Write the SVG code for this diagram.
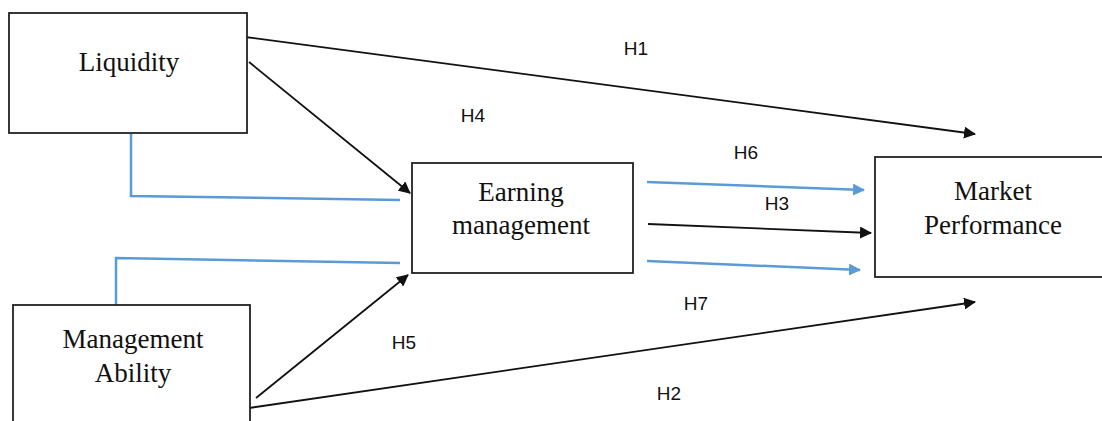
<svg xmlns="http://www.w3.org/2000/svg" width="1102" height="421" viewBox="0 0 1102 421">
<style>
.box{fill:#fff;stroke:#222;stroke-width:1.8}
.nt{font-family:"Liberation Serif",serif;font-size:27px;fill:#111;text-anchor:middle}
.lb{font-family:"Liberation Sans",sans-serif;font-size:19px;fill:#111;text-anchor:middle}
.k{stroke:#111;stroke-width:1.8;fill:none}
.b{stroke:#5B9BD5;stroke-width:2.5;fill:none}
</style>
<defs>
<marker id="ak" markerWidth="12" markerHeight="12" refX="11" refY="6" orient="auto" markerUnits="userSpaceOnUse" viewBox="0 0 12 12"><path d="M0,0 L12,6 L0,12 z" fill="#111"/></marker>
<marker id="ab" markerWidth="12" markerHeight="12" refX="11" refY="6" orient="auto" markerUnits="userSpaceOnUse" viewBox="0 0 12 12"><path d="M0,0 L12,6 L0,12 z" fill="#5B9BD5"/></marker>
</defs>
<rect width="1102" height="421" fill="#fff"/>
<g id="connectors">
<line class="k" x1="245" y1="37" x2="975" y2="134" marker-end="url(#ak)"/>
<line class="k" x1="249" y1="62" x2="410" y2="193" marker-end="url(#ak)"/>
<polyline class="b" points="131,134 131,196 400,200"/>
<polyline class="b" points="116,312 116,258 400,263"/>
<line class="k" x1="256" y1="398" x2="408" y2="275" marker-end="url(#ak)"/>
<line class="k" x1="249" y1="408" x2="975" y2="302" marker-end="url(#ak)"/>
<line class="b" x1="647" y1="182" x2="864" y2="190" marker-end="url(#ab)"/>
<line class="k" x1="648" y1="224" x2="871" y2="233" marker-end="url(#ak)"/>
<line class="b" x1="647" y1="261" x2="860" y2="270" marker-end="url(#ab)"/>
<text class="lb" x="636" y="55">H1</text>
<text class="lb" x="473" y="122">H4</text>
<text class="lb" x="746" y="159">H6</text>
<text class="lb" x="777" y="210">H3</text>
<text class="lb" x="696" y="310">H7</text>
<text class="lb" x="404" y="349">H5</text>
<text class="lb" x="669" y="400">H2</text>
</g>
<g id="liquidity">
<rect class="box" x="9" y="13" width="238" height="120"/>
<text class="nt" x="129" y="71">Liquidity</text>
</g>
<g id="earning">
<rect class="box" x="412" y="163" width="221" height="110"/>
<text class="nt" x="521" y="201">Earning</text>
<text class="nt" x="521" y="234">management</text>
</g>
<g id="market">
<rect class="box" x="875" y="157" width="240" height="120"/>
<text class="nt" x="993" y="200">Market</text>
<text class="nt" x="993" y="234">Performance</text>
</g>
<g id="management">
<rect class="box" x="13" y="305" width="237" height="130"/>
<text class="nt" x="133" y="348">Management</text>
<text class="nt" x="133" y="382">Ability</text>
</g>
</svg>
